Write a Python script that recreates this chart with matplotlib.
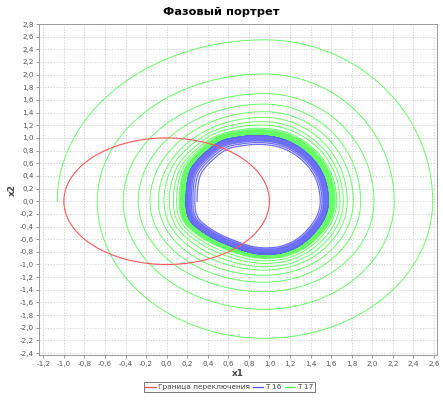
import numpy as np
import matplotlib
matplotlib.use("Agg")
import matplotlib.pyplot as plt
from matplotlib.lines import Line2D

# ---------------- data ----------------
TITLE = "Фазовый портрет"
X_LABEL = "x1"
Y_LABEL = "x2"
LEGEND_LABELS = ["Граница переключения", "T 16", "T 17"]

X_TICKS = [-1.2, -1.0, -0.8, -0.6, -0.4, -0.2, 0.0, 0.2, 0.4, 0.6, 0.8, 1.0,
           1.2, 1.4, 1.6, 1.8, 2.0, 2.2, 2.4, 2.6]
Y_TICKS = [-2.4, -2.2, -2.0, -1.8, -1.6, -1.4, -1.2, -1.0, -0.8, -0.6, -0.4,
           -0.2, 0.0, 0.2, 0.4, 0.6, 0.8, 1.0, 1.2, 1.4, 1.6, 1.8, 2.0, 2.2,
           2.4, 2.6, 2.8]

# switching boundary: circle around the origin
BOUNDARY_CENTER = (0.0, 0.0)
BOUNDARY_RADIUS = 1.0

# limit cycle (outer edge of the blue band), read point by point
CYCLE_X = [0.19, 0.205, 0.27, 0.45, 0.68, 0.85, 1.00, 1.15, 1.32, 1.47,
           1.555, 1.57, 1.53, 1.43, 1.27, 1.08, 0.85, 0.62, 0.53, 0.47, 0.40,
           0.31, 0.235, 0.20]
CYCLE_Y = [0.00, -0.22, -0.38, -0.58, -0.74, -0.82, -0.835, -0.80, -0.67,
           -0.43, -0.18, 0.08, 0.38, 0.65, 0.87, 1.00, 1.035, 0.99, 0.945,
           0.89, 0.80, 0.66, 0.50, 0.28]
CYCLE_CENTER_X = 0.95

# T 17: extremes of each turn of the spiral (left at x2=0, top, right, bottom)
T17_LEFT = [-1.064, -0.675, -0.422, -0.276, -0.162, -0.081, -0.026, 0.026,
            0.065, 0.097, 0.123, 0.134, 0.143, 0.150, 0.156, 0.161, 0.166,
            0.170, 0.173, 0.176, 0.178, 0.180, 0.182, 0.184, 0.185, 0.186,
            0.187]
T17_TOP = [2.55, 2.01, 1.70, 1.535, 1.415, 1.325, 1.257, 1.203, 1.151, 1.13,
           1.115, 1.102, 1.091, 1.082, 1.074, 1.067, 1.061, 1.056, 1.052,
           1.048, 1.045, 1.042, 1.040, 1.038, 1.036, 1.035]
T17_RIGHT = [2.588, 2.214, 2.017, 1.887, 1.815, 1.757, 1.718, 1.686, 1.654,
             1.640, 1.630, 1.621, 1.613, 1.607, 1.601, 1.596, 1.592, 1.589,
             1.586, 1.583, 1.581, 1.579, 1.577, 1.576, 1.575, 1.574]
T17_BOTTOM = [-2.166, -1.708, -1.43, -1.28, -1.17, -1.088, -1.036, -0.983,
              -0.941, -0.904, -0.892, -0.883, -0.875, -0.868, -0.862, -0.857,
              -0.853, -0.849, -0.846, -0.843, -0.841, -0.839, -0.837, -0.836,
              -0.835, -0.834]

# T 16: size of each turn relative to the limit cycle (starts inside)
T16_SCALES = [0.86, 0.89, 0.915, 0.935, 0.952, 0.965, 0.975, 0.983, 0.989,
              0.993, 0.996, 0.998, 1.0, 1.0, 1.0]

RED = "#FF5555"
BLUE = "#5555FF"
GREEN = "#55FF55"


# ---------------- helpers (rendering only) ----------------
def closed_curve(xs, ys, n=40):
    pts = np.column_stack([xs, ys])
    N = len(pts)
    t = np.linspace(0, 1, n, endpoint=False)[:, None]
    out = []
    for i in range(N):
        p0, p1, p2, p3 = pts[(i - 1) % N], pts[i], pts[(i + 1) % N], pts[(i + 2) % N]
        out.append(0.5 * (2 * p1 + (-p0 + p2) * t
                          + (2 * p0 - 5 * p1 + 4 * p2 - p3) * t ** 2
                          + (-p0 + 3 * p1 - 3 * p2 + p3) * t ** 3))
    return np.vstack(out)


cyc = closed_curve(CYCLE_X, CYCLE_Y)
cpsi = np.arctan2(cyc[:, 1], cyc[:, 0] - CYCLE_CENTER_X)
crad = np.hypot(cyc[:, 1], cyc[:, 0] - CYCLE_CENTER_X)
order = np.argsort(cpsi)
cpsi, crad = cpsi[order], crad[order]


def r_cycle(psi):
    p = np.mod(np.asarray(psi) + np.pi, 2 * np.pi) - np.pi
    return np.interp(p, cpsi, crad, period=2 * np.pi)


def quarter(x_ext, y_ext, psi_from, psi_to, npts=120):
    psi = np.linspace(psi_from, psi_to, npts)
    a = abs(x_ext - CYCLE_CENTER_X)
    b = abs(y_ext)
    psi_x = 0.0 if x_ext > CYCLE_CENTER_X else np.pi
    psi_y = np.pi / 2 if y_ext > 0 else -np.pi / 2
    rE = a * b / np.sqrt((b * np.cos(psi)) ** 2 + (a * np.sin(psi)) ** 2)
    sx = a / r_cycle(psi_x)
    sy = b / r_cycle(psi_y)
    rS = r_cycle(psi) * (sx * np.cos(psi) ** 2 + sy * np.sin(psi) ** 2)
    w = np.clip(((sx + sy) / 2 - 1) / 0.35, 0, 1)
    r = (1 - w) * rS + w * rE
    return CYCLE_CENTER_X + r * np.cos(psi), r * np.sin(psi)


# green spiral
gx, gy = [], []
for k in range(len(T17_TOP)):
    segs = [(T17_LEFT[k], T17_TOP[k], np.pi, np.pi / 2),
            (T17_RIGHT[k], T17_TOP[k], np.pi / 2, 0.0),
            (T17_RIGHT[k], T17_BOTTOM[k], 0.0, -np.pi / 2),
            (T17_LEFT[k + 1], T17_BOTTOM[k], -np.pi / 2, -np.pi)]
    for xe, ye, p0, p1 in segs:
        x, y = quarter(xe, ye, p0, p1)
        gx.append(x)
        gy.append(y)
gx = np.concatenate(gx)
gy = np.concatenate(gy)

# blue spiral
bx, by = [], []
for k in range(len(T16_SCALES) - 1):
    psi = np.linspace(np.pi, -np.pi, 600)
    s = np.linspace(T16_SCALES[k], T16_SCALES[k + 1], 600)
    r = r_cycle(psi) * s
    bx.append(CYCLE_CENTER_X + r * np.cos(psi))
    by.append(r * np.sin(psi))
bx = np.concatenate(bx)
by = np.concatenate(by)

# boundary circle
th = np.linspace(0, 2 * np.pi, 400)
rx = BOUNDARY_CENTER[0] + BOUNDARY_RADIUS * np.cos(th)
ry = BOUNDARY_CENTER[1] + BOUNDARY_RADIUS * np.sin(th)

# ---------------- figure ----------------
fig = plt.figure(figsize=(4.43, 4.0), dpi=100)
ax = fig.add_axes([0.0887, 0.1125, 0.8978, 0.8275])
ax.set_facecolor("white")

ax.plot(gx, gy, color=GREEN, lw=0.7, alpha=0.9, zorder=2)
ax.plot(bx, by, color=BLUE, lw=0.9, alpha=0.85, zorder=3)
ax.plot(rx, ry, color=RED, lw=0.8, zorder=4)

ax.set_xlim(-1.239, 2.63)
ax.set_ylim(-2.43, 2.8)
ax.set_xticks(X_TICKS)
ax.set_yticks(Y_TICKS)
ax.set_xticklabels([f"{v:.1f}".replace(".", ",") for v in X_TICKS])
ax.set_yticklabels([f"{v:.1f}".replace(".", ",") for v in Y_TICKS])
ax.tick_params(labelsize=5.2, labelcolor="#555555", color="#888888",
               length=2, width=0.6, pad=2)
ax.grid(True, color="#c8c8c8", lw=0.5, ls=(0, (2, 2)))
ax.set_axisbelow(True)
for sp in ax.spines.values():
    sp.set_color("#999999")
    sp.set_linewidth(0.7)

ax.set_xlabel(X_LABEL, fontsize=6.5, fontweight="bold", color="#444444", labelpad=2)
ax.set_ylabel(Y_LABEL, fontsize=6.5, fontweight="bold", color="#444444", labelpad=2)
fig.text(0.5, 0.97, TITLE, ha="center", va="center", fontsize=8.2,
         fontweight="bold", color="black")

handles = [Line2D([], [], color=c, lw=0.9) for c in (RED, BLUE, GREEN)]
leg = fig.legend(handles, LEGEND_LABELS, loc="center", bbox_to_anchor=(0.518, 0.0325),
                 ncol=3, fontsize=5.3, frameon=True, fancybox=False,
                 handlelength=1.4, handletextpad=0.3, columnspacing=0.4,
                 borderpad=0.25, borderaxespad=0)
leg.get_frame().set_edgecolor("#555555")
leg.get_frame().set_linewidth(0.7)
for t in leg.get_texts():
    t.set_color("#444444")

fig.savefig("out.png", dpi=100)
